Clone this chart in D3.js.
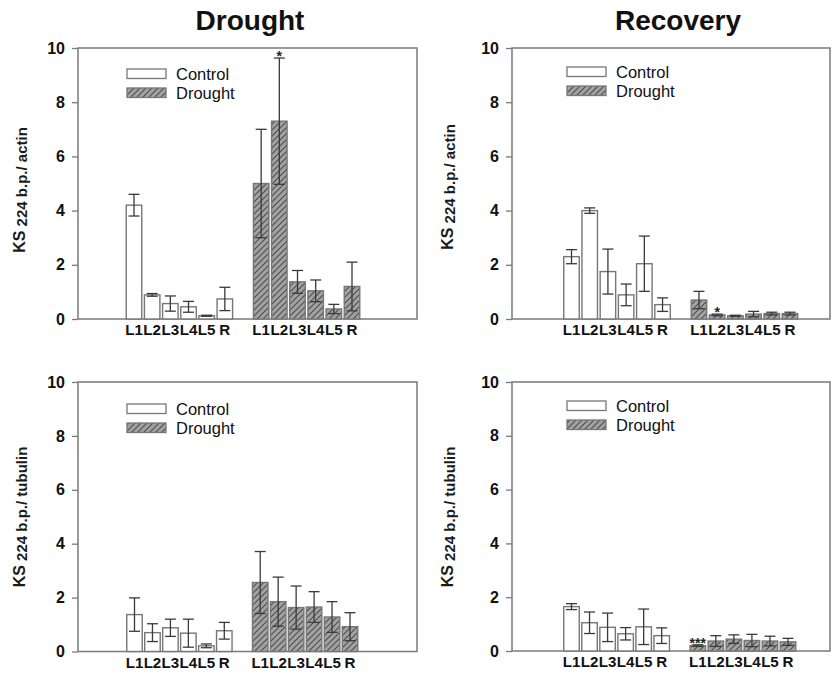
<!DOCTYPE html>
<html><head><meta charset="utf-8">
<script src="https://cdn.jsdelivr.net/npm/d3@7"></script>
<style>body{margin:0;background:#fff} text{font-family:"Liberation Sans",Arial,Helvetica,sans-serif}</style>
</head><body><svg id="c" width="831" height="677"></svg>
<script>
// ---------- data ----------
const categories = ["L1", "L2", "L3", "L4", "L5", "R"];
const seriesNames = ["Control", "Drought"];
const yTicks = [0, 2, 4, 6, 8, 10];
const columnTitles = ["Drought", "Recovery"];

const actinDroughtCtrl    = [4.2, 0.89, 0.57, 0.45, 0.12, 0.74];
const actinDroughtCtrlErr = [0.4, 0.05, 0.28, 0.2, 0.02, 0.43];
const actinDroughtTrt     = [5.0, 7.3, 1.37, 1.04, 0.37, 1.2];
const actinDroughtTrtErr  = [2.0, 2.33, 0.42, 0.4, 0.17, 0.9];
const actinDroughtSig     = ["", "*", "", "", "", ""];

const actinRecovCtrl    = [2.3, 4.0, 1.75, 0.89, 2.04, 0.53];
const actinRecovCtrlErr = [0.26, 0.1, 0.83, 0.4, 1.02, 0.25];
const actinRecovTrt     = [0.7, 0.15, 0.12, 0.18, 0.2, 0.2];
const actinRecovTrtErr  = [0.32, 0.03, 0.02, 0.1, 0.05, 0.05];
const actinRecovSig     = ["", "*", "", "", "", ""];

const tubulinDroughtCtrl    = [1.37, 0.7, 0.88, 0.68, 0.21, 0.77];
const tubulinDroughtCtrlErr = [0.62, 0.33, 0.32, 0.52, 0.07, 0.31];
const tubulinDroughtTrt     = [2.56, 1.85, 1.63, 1.65, 1.28, 0.92];
const tubulinDroughtTrtErr  = [1.15, 0.91, 0.8, 0.57, 0.57, 0.52];
const tubulinDroughtSig     = ["", "", "", "", "", ""];

const tubulinRecovCtrl    = [1.65, 1.05, 0.88, 0.64, 0.9, 0.57];
const tubulinRecovCtrlErr = [0.11, 0.4, 0.53, 0.23, 0.66, 0.29];
const tubulinRecovTrt     = [0.2, 0.37, 0.44, 0.39, 0.37, 0.34];
const tubulinRecovTrtErr  = [0.03, 0.2, 0.16, 0.23, 0.18, 0.13];
const tubulinRecovSig     = ["***", "", "", "", "", ""];

// ---------- layout ----------
const panels = [
  {ctrl: actinDroughtCtrl, ctrlErr: actinDroughtCtrlErr, trt: actinDroughtTrt, trtErr: actinDroughtTrtErr, sig: actinDroughtSig,
   title: columnTitles[0], ref: "actin", L: 78, R: 417, T: 48, B: 319, x0: 134, x1: 352, lx: 49, ly: 21, labX: 25, labY: 190, titleX: 250},
  {ctrl: actinRecovCtrl, ctrlErr: actinRecovCtrlErr, trt: actinRecovTrt, trtErr: actinRecovTrtErr, sig: actinRecovSig,
   title: columnTitles[1], ref: "actin", L: 512, R: 830, T: 48, B: 319, x0: 571.5, x1: 790, lx: 55, ly: 19, labX: 453, labY: 187, titleX: 678},
  {ctrl: tubulinDroughtCtrl, ctrlErr: tubulinDroughtCtrlErr, trt: tubulinDroughtTrt, trtErr: tubulinDroughtTrtErr, sig: tubulinDroughtSig,
   title: null, ref: "tubulin", L: 78, R: 417, T: 382, B: 651.5, x0: 134.5, x1: 350, lx: 49, ly: 22, labX: 25, labY: 517, titleX: 0},
  {ctrl: tubulinRecovCtrl, ctrlErr: tubulinRecovCtrlErr, trt: tubulinRecovTrt, trtErr: tubulinRecovTrtErr, sig: tubulinRecovSig,
   title: null, ref: "tubulin", L: 512, R: 830, T: 382, B: 651, x0: 571.5, x1: 788, lx: 55, ly: 19, labX: 453, labY: 517, titleX: 0}
];

const svg = d3.select("#c");
svg.append("rect").attr("width", 831).attr("height", 677).attr("fill", "#fff");
const defs = svg.append("defs");
const pat = defs.append("pattern").attr("id", "hatch").attr("patternUnits", "userSpaceOnUse")
  .attr("width", 6).attr("height", 6);
pat.append("rect").attr("width", 6).attr("height", 6).attr("fill", "#a2a2a2");
pat.append("path").attr("d", "M-1,1 L1,-1 M0,6 L6,0 M5,7 L7,5")
  .attr("stroke", "#4d4d4d").attr("stroke-width", 1.1);

const frameColor = "#7a7a7a";
const barStroke = "#777";
const errColor = "#3a3a3a";
const barW = 15.5, capW = 11;

panels.forEach(p => {
  const g = svg.append("g");
  const y = d3.scaleLinear().domain([0, 10]).range([p.B, p.T]);
  const x = d3.scaleLinear().domain([0, 12]).range([p.x0, p.x1]);

  // frame
  g.append("rect").attr("x", p.L).attr("y", p.T).attr("width", p.R - p.L).attr("height", p.B - p.T)
    .attr("fill", "none").attr("stroke", frameColor).attr("stroke-width", 1.5);

  // y axis
  const ax = g.append("g").attr("transform", `translate(${p.L},0)`)
    .call(d3.axisLeft(y).tickValues(yTicks).tickSize(6).tickPadding(7).tickFormat(d3.format("d")));
  ax.select(".domain").remove();
  ax.selectAll(".tick line").attr("stroke", frameColor).attr("stroke-width", 1.3);
  ax.selectAll(".tick text").attr("font-size", 16).attr("font-weight", "bold").attr("fill", "#111")
    .style("font-family", '"Liberation Sans",Arial,sans-serif');

  // bars
  const rows = [];
  categories.forEach((c, i) => {
    rows.push({cat: c, idx: i, v: p.ctrl[i], e: p.ctrlErr[i], s: seriesNames[0], sig: ""});
  });
  categories.forEach((c, i) => {
    rows.push({cat: c, idx: 7 + i, v: p.trt[i], e: p.trtErr[i], s: seriesNames[1], sig: p.sig[i]});
  });

  g.selectAll("rect.bar").data(rows).join("rect").attr("class", "bar")
    .attr("x", d => x(d.idx) - barW / 2).attr("width", barW)
    .attr("y", d => y(d.v)).attr("height", d => y(0) - y(d.v))
    .attr("fill", d => d.s === seriesNames[0] ? "#fff" : "url(#hatch)")
    .attr("stroke", barStroke).attr("stroke-width", 1.4);

  // error bars
  const eg = g.selectAll("g.err").data(rows).join("g").attr("class", "err")
    .attr("stroke", errColor).attr("stroke-width", 1.3);
  eg.append("line").attr("x1", d => x(d.idx)).attr("x2", d => x(d.idx))
    .attr("y1", d => y(Math.max(0, d.v - d.e))).attr("y2", d => y(d.v + d.e));
  eg.append("line").attr("x1", d => x(d.idx) - capW / 2).attr("x2", d => x(d.idx) + capW / 2)
    .attr("y1", d => y(d.v + d.e)).attr("y2", d => y(d.v + d.e));
  eg.append("line").attr("x1", d => x(d.idx) - capW / 2).attr("x2", d => x(d.idx) + capW / 2)
    .attr("y1", d => y(Math.max(0, d.v - d.e))).attr("y2", d => y(Math.max(0, d.v - d.e)));

  // significance marks
  g.selectAll("text.sig").data(rows.filter(d => d.sig)).join("text").attr("class", "sig")
    .attr("x", d => x(d.idx)).attr("y", d => y(d.v + d.e) + 3)
    .attr("text-anchor", "middle").attr("font-size", 14).attr("font-weight", "bold").attr("fill", "#222")
    .text(d => d.sig);

  // x labels
  g.selectAll("text.xl").data(rows).join("text").attr("class", "xl")
    .attr("transform", d => `translate(${x(d.idx)},${p.B + 16}) scale(1.08,1)`)
    .attr("text-anchor", "middle").attr("font-size", 14).attr("font-weight", "bold").attr("fill", "#111")
    .text(d => d.cat);

  // legend
  seriesNames.forEach((s, k) => {
    const by = p.T + p.ly + k * 19;
    g.append("rect").attr("x", p.L + p.lx).attr("y", by).attr("width", 39).attr("height", 9.5)
      .attr("fill", k === 0 ? "#fff" : "url(#hatch)").attr("stroke", barStroke).attr("stroke-width", 1.3);
    g.append("text").attr("x", p.L + p.lx + 49).attr("y", by + 10.5)
      .attr("font-size", 16.5).attr("fill", "#111").text(s);
  });

  // y label
  const yl = g.append("text").attr("transform", `translate(${p.labX},${p.labY}) rotate(-90)`)
    .attr("text-anchor", "middle").attr("font-size", 15).attr("font-weight", "bold").attr("fill", "#1a1a1a");
  yl.append("tspan").attr("font-size", 16).text("KS");
  yl.append("tspan").attr("dy", 1.5).text(" 224 b.p./ " + p.ref);

  // title
  if (p.title) {
    svg.append("text").attr("x", p.titleX).attr("y", 30).attr("text-anchor", "middle")
      .attr("font-size", 28).attr("font-weight", "bold").attr("fill", "#111").text(p.title);
  }
});
</script></body></html>
